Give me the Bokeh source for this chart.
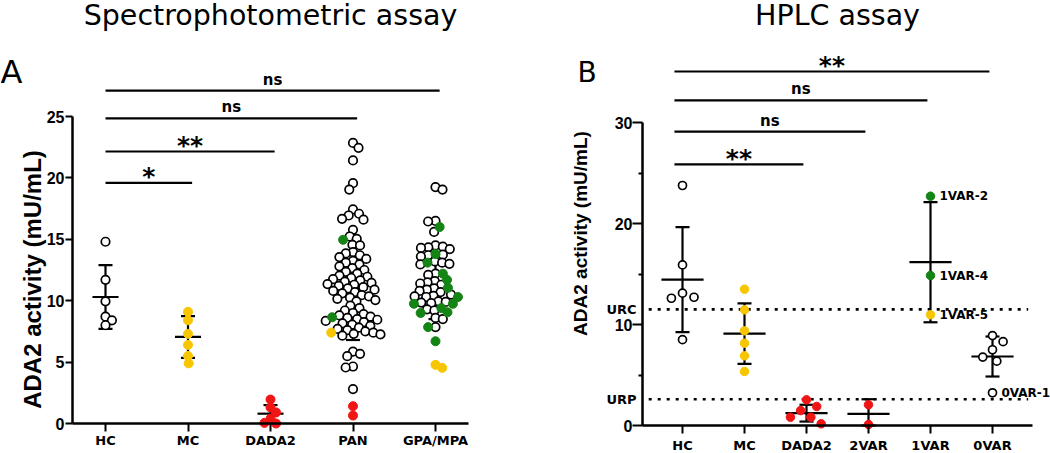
import numpy as np
from bokeh.plotting import figure
from bokeh.layouts import row
from bokeh.models import FixedTicker, Label, LabelSet, ColumnDataSource
from bokeh.core.properties import value
from bokeh.embed import file_html
from bokeh.resources import INLINE

# ---------------- Panel A : spectrophotometric assay ----------------
a_title = "Spectrophotometric assay"
a_letter = "A"
a_ylabel = "ADA2 activity (mU/mL)"
a_groups = ["HC", "MC", "DADA2", "PAN", "GPA/MPA"]
a_yticks = [0, 5, 10, 15, 20, 25]
a_hc_open = [14.8, 11.7, 9.95, 8.7, 8.4, 8.0]
a_mc_yellow = [9.1, 8.4, 7.3, 6.4, 5.5, 4.9]
a_dada2_red = [1.95, 1.3, 0.9, 0.4, 0.05, 0.0]
a_pan_open = [22.85, 22.45, 21.42, 19.57, 19.05, 17.43, 17.08, 16.94, 16.67, 16.6,
              15.77, 15.23, 15.04, 14.55, 14.5,
              13.95, 13.85, 13.7, 13.55, 13.4, 13.25, 13.1,
              12.95, 12.8, 12.65, 12.5,
              12.35, 12.2, 12.05, 11.95, 11.85, 11.75,
              11.65, 11.55, 11.45, 11.35, 11.3, 11.2, 11.1,
              11.0, 10.9, 10.8, 10.7, 10.6,
              10.45, 10.35, 10.25, 10.15, 10.05, 9.95,
              9.6, 9.4, 9.2,
              9.0, 8.9, 8.8, 8.7, 8.6, 8.5, 8.45,
              8.35, 8.25, 8.15, 8.05, 7.95,
              7.8, 7.7, 7.6, 7.5, 7.4, 7.3, 7.25, 7.15,
              5.86, 5.67, 5.48, 4.64, 4.56, 2.8]
a_pan_green = [14.96, 8.65]
a_pan_yellow = [7.4]
a_pan_red = [1.41, 0.65]
a_gpa_open = [19.25, 19.05, 16.5, 16.45, 15.6, 14.5, 14.4, 14.35, 14.3, 14.2,
              13.75, 13.7, 13.6, 13.2, 13.1, 13.0, 12.95, 12.2, 12.1,
              11.6, 11.5, 11.4, 11.3, 11.0, 10.9, 10.8, 10.7,
              10.5, 10.4, 10.35, 10.3, 9.95, 9.9, 9.85, 9.8,
              9.3, 9.2, 8.6, 8.5, 7.85]
a_gpa_green = [16.0, 13.8, 13.1, 12.2, 11.7, 11.05, 10.3, 9.75, 9.75, 9.4, 9.06, 9.0, 7.85, 6.7]
a_gpa_yellow = [4.78, 4.53]
a_mean = [10.3, 7.05, 0.8, 11.0, 11.55]
a_sd = [2.6, 1.7, 0.7, 4.2, 3.05]
a_comp_target = ["MC", "DADA2", "PAN", "GPA/MPA"]
a_comp_text = ["*", "**", "ns", "ns"]
a_comp_level = [19.6, 22.15, 24.85, 27.1]

# ---------------- Panel B : HPLC assay ----------------
b_title = "HPLC assay"
b_letter = "B"
b_ylabel = "ADA2 activity (mU/mL)"
b_groups = ["HC", "MC", "DADA2", "2VAR", "1VAR", "0VAR"]
b_yticks = [0, 10, 20, 30]
b_yminor = [5, 15, 25]
b_hc_open = [23.76, 15.9, 13.1, 12.7, 12.6, 8.5]
b_mc_yellow = [13.5, 11.45, 9.37, 8.15, 6.9, 5.35]
b_dada2_red = [2.54, 1.88, 1.48, 0.82, 0.82, 0.17]
b_2var_red = [2.05, 0.1]
b_1var_green = [22.7, 14.85]
b_1var_yellow = [10.96]
b_1var_names = ["1VAR-2", "1VAR-4", "1VAR-5"]
b_0var_open = [8.9, 8.3, 7.5, 6.77, 6.37, 3.24]
b_0var_names = ["", "", "", "", "", "0VAR-1"]
b_mean = [14.45, 9.1, 1.22, 1.15, 16.17, 6.83]
b_sd = [5.2, 3.0, 0.83, 1.45, 5.95, 1.98]
b_ref_names = ["URC", "URP"]
b_ref_levels = [11.5, 2.6]
b_comp_target = ["DADA2", "2VAR", "1VAR", "0VAR"]
b_comp_text = ["**", "ns", "ns", "**"]
b_comp_level = [25.85, 29.1, 32.2, 35.05]

# ---------------- styles / layout ----------------
RED, YELLOW, GREEN = "#f01515", "#f7c600", "#148414"
OPEN = dict(fill_color="white", line_color="black")
FILL = lambda c: dict(fill_color=c, line_color=c)
H = 453


def swarm(vals, pyu, d):
    vals = np.asarray(vals, float)
    order = np.argsort(-vals, kind="stable")
    xs = np.zeros(len(vals))
    placed = []
    flip = 1
    for i in order:
        y = vals[i] * pyu
        blocked = []
        for (px, py) in placed:
            dy = abs(py - y)
            if dy < d:
                w = np.sqrt(d * d - dy * dy)
                blocked.append((px - w, px + w))
        cands = [0.0] + [c for b in blocked for c in b]
        free = [c for c in cands if not any(lo + 1e-6 < c < hi - 1e-6 for lo, hi in blocked)]
        m = min(abs(c) for c in free)
        best = sorted(set(round(c, 6) for c in free if abs(abs(c) - m) < 1e-6))
        if len(best) > 1:
            c = best[-1] if flip > 0 else best[0]
            flip = -flip
        else:
            c = best[0]
        xs[i] = c
        placed.append((c, y))
    return xs


def make_panel(groups, yticks, W, cat0, spacing, axis_px, y0_px, pyu, dot, diam,
               mean_half, cap_half, minor=None):
    pxu = spacing
    xr = (-cat0 / pxu, (W - cat0) / pxu)
    yr = (-(H - y0_px) / pyu, y0_px / pyu)
    p = figure(width=W, height=H, x_range=xr, y_range=yr, output_backend="svg",
               toolbar_location=None, min_border_left=0, min_border_right=0,
               min_border_top=0, min_border_bottom=0)
    p.outline_line_color = None
    p.xgrid.visible = False
    p.ygrid.visible = False
    x_axis_lo = (axis_px[0] - cat0) / pxu
    x_axis_hi = (axis_px[1] - cat0) / pxu

    def X(cx):
        return (cx - cat0) / pxu

    def Y(cy):
        return (y0_px - cy) / pyu

    ax = p.xaxis[0]
    ax.ticker = FixedTicker(ticks=list(range(len(groups))))
    ax.major_label_overrides = {i: g for i, g in enumerate(groups)}
    ax.fixed_location = 0
    ax.bounds = (x_axis_lo, x_axis_hi)
    ax.axis_line_width = 2.5
    ax.major_tick_line_width = 2
    ax.major_tick_out = 8
    ax.major_tick_in = 0
    ax.minor_tick_line_color = None
    ax.major_label_text_font = "DejaVu Sans"
    ax.major_label_text_font_style = "bold"
    ax.major_label_text_font_size = "13px"
    ax.major_label_text_color = "black"

    ay = p.yaxis[0]
    ay.ticker = FixedTicker(ticks=yticks, minor_ticks=minor or [])
    ay.fixed_location = x_axis_lo
    ay.bounds = (yticks[0], yticks[-1])
    ay.axis_line_width = 2.5
    ay.major_tick_line_width = 2
    ay.minor_tick_line_width = 2
    ay.major_tick_in = 0
    ay.minor_tick_in = 0
    ay.major_label_text_font = "Liberation Sans"
    ay.major_label_text_font_style = "bold"
    ay.major_label_text_font_size = "16px"
    ay.major_label_text_color = "black"
    if not minor:
        ay.minor_tick_line_color = None

    return dict(p=p, X=X, Y=Y, pxu=pxu, pyu=pyu, dot=dot, diam=diam, xlo=x_axis_lo,
                xhi=x_axis_hi, mean_half=mean_half, cap_half=cap_half)


def add_text(ctx, cx, cy, text, size, style="normal", align="left", angle=0.0,
             font="DejaVu Sans"):
    ctx["p"].add_layout(Label(x=ctx["X"](cx), y=ctx["Y"](cy), text=text, text_font=font,
                              text_font_style=style, text_font_size=size, text_align=align,
                              text_baseline="middle", angle=angle, text_color="black"))


def draw_group(ctx, i, parts):
    p = ctx["p"]
    vals = [v for vs, _ in parts for v in vs]
    offs = swarm(vals, ctx["pyu"], ctx["dot"]) / ctx["pxu"]
    k = 0
    xs_all = []
    for vs, style in parts:
        n = len(vs)
        xs = i + offs[k:k + n]
        xs_all.append(xs)
        lw = 1.7 if style is OPEN else 1
        size = ctx["diam"] - (0.5 if style is OPEN else 0)
        p.scatter(xs, vs, marker="circle", size=size, line_width=lw, **style)
        k += n
    return xs_all


def draw_bars(ctx, mean, sd):
    p = ctx["p"]
    idx = np.arange(len(mean))
    mean = np.asarray(mean)
    sd = np.asarray(sd)
    lo = np.maximum(mean - sd, 0)
    hi = mean + sd
    kw = dict(line_color="black", line_width=2.2)
    p.segment(idx, lo, idx, hi, **kw)
    p.segment(idx - ctx["cap_half"], hi, idx + ctx["cap_half"], hi, **kw)
    p.segment(idx - ctx["cap_half"], lo, idx + ctx["cap_half"], lo, **kw)
    p.segment(idx - ctx["mean_half"], mean, idx + ctx["mean_half"], mean, **kw)


def draw_comparisons(ctx, groups, targets, texts, levels, x0, end_shift):
    p = ctx["p"]
    pyu = ctx["pyu"]
    x1 = [groups.index(t) + end_shift for t in targets]
    p.segment([x0] * len(x1), levels, x1, levels, line_color="black", line_width=2.2)
    for xa, lev, t in zip(x1, levels, texts):
        if t == "ns":
            y = lev + 11.0 / pyu
            size = "15px"
        else:
            y = lev + 6.0 / pyu
            size = "25px"
        p.text([(x0 + xa) / 2], [y], text=[t], text_font=value("DejaVu Sans"),
               text_font_style="bold", text_font_size=size, text_align="center",
               text_baseline="middle", text_color="black")


# ================= Panel A =================
A = make_panel(a_groups, a_yticks, 520, cat0=105, spacing=82.5, axis_px=(72, 468), y0_px=423,
               pyu=12.28, dot=7.4, diam=9, mean_half=0.158, cap_half=0.085)
pA = A["p"]
pA.yaxis[0].major_tick_out = 7
pA.yaxis[0].major_label_standoff = 1
pA.xaxis[0].major_label_standoff = 1
add_text(A, 270, 15, a_title, "28.5px", align="center")
add_text(A, 0, 71, a_letter, "32px")
add_text(A, 32, 279, a_ylabel, "24px", style="bold", align="center", angle=np.pi / 2,
         font="Liberation Sans")
draw_bars(A, a_mean, a_sd)
draw_group(A, 0, [(a_hc_open, OPEN)])
draw_group(A, 1, [(a_mc_yellow, FILL(YELLOW))])
draw_group(A, 2, [(a_dada2_red, FILL(RED))])
draw_group(A, 3, [(a_pan_open, OPEN), (a_pan_green, FILL(GREEN)), (a_pan_yellow, FILL(YELLOW)),
                  (a_pan_red, FILL(RED))])
draw_group(A, 4, [(a_gpa_open, OPEN), (a_gpa_green, FILL(GREEN)), (a_gpa_yellow, FILL(YELLOW))])
draw_comparisons(A, a_groups, a_comp_target, a_comp_text, a_comp_level, 0.0, 0.05)

# ================= Panel B =================
B = make_panel(b_groups, b_yticks, 530, cat0=162, spacing=62.0, axis_px=(122, 512), y0_px=425,
               pyu=10.1, dot=12.2, diam=8.5, mean_half=0.34, cap_half=0.113, minor=b_yminor)
pB = B["p"]
pB.yaxis[0].major_tick_out = 10
pB.yaxis[0].minor_tick_out = 4
pB.yaxis[0].major_label_standoff = 0
pB.xaxis[0].major_label_standoff = 4
add_text(B, 317, 15, b_title, "28.5px", align="center")
add_text(B, 57, 72, b_letter, "28px")
add_text(B, 59.5, 233, b_ylabel, "19px", style="bold", align="center", angle=np.pi / 2,
         font="Liberation Sans")
pB.segment([B["xlo"] + 0.1] * len(b_ref_levels), b_ref_levels,
           [B["xhi"] - 0.07] * len(b_ref_levels), b_ref_levels,
           line_color="black", line_width=2.6, line_dash="3 6")
for name, lev in zip(b_ref_names, b_ref_levels):
    pB.add_layout(Label(x=B["X"](116), y=lev, text=name, text_font="DejaVu Sans",
                        text_font_style="bold", text_font_size="13px", text_align="right",
                        text_baseline="middle", text_color="black"))
draw_bars(B, b_mean, b_sd)
draw_group(B, 0, [(b_hc_open, OPEN)])
draw_group(B, 1, [(b_mc_yellow, FILL(YELLOW))])
draw_group(B, 2, [(b_dada2_red, FILL(RED))])
draw_group(B, 3, [(b_2var_red, FILL(RED))])
xs1 = draw_group(B, 4, [(b_1var_green, FILL(GREEN)), (b_1var_yellow, FILL(YELLOW))])
xs0 = draw_group(B, 5, [(b_0var_open, OPEN)])
lab_src = ColumnDataSource(dict(
    x=list(np.concatenate(xs1)) + list(xs0[0]),
    y=b_1var_green + b_1var_yellow + b_0var_open,
    t=b_1var_names + b_0var_names))
pB.add_layout(LabelSet(x="x", y="y", text="t", source=lab_src, x_offset=9,
                       text_font=value("DejaVu Sans"), text_font_style="bold",
                       text_font_size="12px", text_baseline="middle", text_color="black"))
draw_comparisons(B, b_groups, b_comp_target, b_comp_text, b_comp_level, -0.13, -0.05)

layout = row(pA, pB)
open("out.html", "w").write(file_html(layout, INLINE))
